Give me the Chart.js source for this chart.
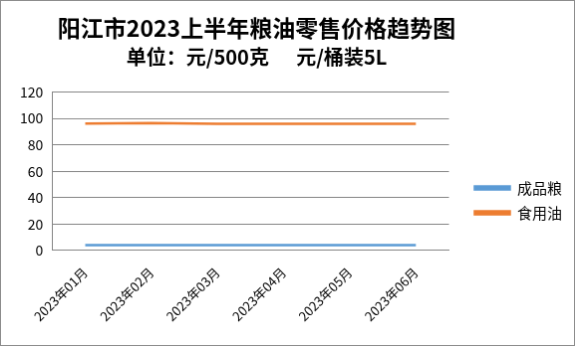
<!DOCTYPE html>
<html>
<head>
<meta charset="utf-8">
<script src="https://cdn.jsdelivr.net/npm/chart.js@4"></script>
<style>
  body { margin: 0; background: #fff; }
  #price-chart { display: block; border: 1px solid #8c8c8c; }
</style>
</head>
<body>
<canvas id="price-chart" width="575" height="346"></canvas>
<script>
const months = ['2023年01月', '2023年02月', '2023年03月', '2023年04月', '2023年05月', '2023年06月'];
const grain = [4.2, 4.2, 4.2, 4.2, 4.2, 4.2];     // 成品粮 元/500克
const oil = [96.1, 96.6, 95.9, 95.9, 95.9, 95.9];  // 食用油 元/桶装5L
const yTicks = [0, 20, 40, 60, 80, 100, 120];

const cjk = '"Noto Sans CJK SC", "Microsoft YaHei", sans-serif';
const gridGray = '#868686';

function makeSet(label, values, color) {
    return {
        label: label,
        data: values,
        borderColor: color,
        backgroundColor: color,
        borderWidth: 2.5,
        pointRadius: 0,
        tension: 0
    };
}

// nudge legend down/right and titles a bit left, like the excel original
const boxShift = {
    id: 'boxShift',
    afterLayout(chart) {
        const lg = chart.legend;
        lg.left += 16; lg.right += 16;
        lg.top += 31; lg.bottom += 31;
        chart.boxes.filter(b => b.position === 'top').forEach(b => {
            b.left -= 27; b.right -= 27;
        });
    }
};

function main() {
    const canvas = document.querySelector('#price-chart');
    new Chart(canvas.getContext('2d'), {
        type: 'line',
        data: {
            labels: months,
            datasets: [
                makeSet('成品粮', grain, '#5b9bd5'),
                makeSet('食用油', oil, '#ed7d31')
            ]
        },
        plugins: [boxShift],
        options: {
            responsive: false,
            animation: false,
            layout: { padding: { left: 10, right: 18, top: 8, bottom: 15 } },
            plugins: {
                title: {
                    display: true,
                    text: '阳江市2023上半年粮油零售价格趋势图',
                    color: '#000',
                    font: { family: cjk, size: 23, weight: 'bold' },
                    padding: { top: 5, bottom: 4 }
                },
                subtitle: {
                    display: true,
                    text: '单位：元/500克      元/桶装5L',
                    color: '#000',
                    font: { family: cjk, size: 20, weight: 'bold' },
                    padding: { top: 0, bottom: 23 }
                },
                legend: {
                    position: 'right',
                    labels: {
                        boxWidth: 35,
                        boxHeight: 3,
                        color: '#000',
                        padding: 10,
                        font: { family: cjk, size: 15 }
                    }
                },
                tooltip: { enabled: false }
            },
            scales: {
                x: {
                    offset: true,
                    grid: { display: false },
                    border: { display: true, color: gridGray },
                    ticks: {
                        color: '#000',
                        minRotation: 45,
                        maxRotation: 45,
                        padding: 6,
                        font: { family: cjk, size: 13 }
                    }
                },
                y: {
                    min: 0,
                    max: 120,
                    afterBuildTicks: axis => { axis.ticks = yTicks.map(v => ({ value: v })); },
                    grid: { color: gridGray, drawTicks: false },
                    border: { display: true, color: gridGray },
                    ticks: {
                        color: '#000',
                        padding: 9,
                        font: { family: cjk, size: 14 }
                    }
                }
            }
        }
    });
}

main();
</script>
</body>
</html>
